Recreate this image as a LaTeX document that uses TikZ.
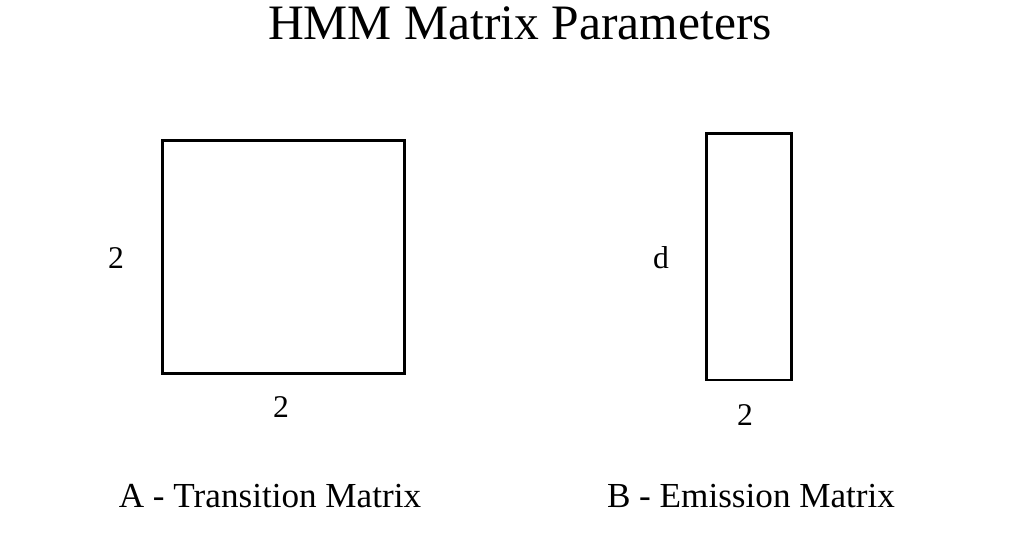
\documentclass[tikz,border=0pt]{standalone}
\usepackage{fontspec}
\setmainfont{Liberation Serif}
\usetikzlibrary{positioning}
\tikzset{
  matbox/.style={draw=black, line width=1.7pt, fill=white, inner sep=0pt},
  dimlbl/.style={font=\fontsize{18}{20}\selectfont, inner sep=0pt},
  caption/.style={font=\fontsize{20}{24}\selectfont, inner sep=0pt},
  headline/.style={font=\fontsize{28.2}{32}\selectfont, inner sep=0pt}
}

\begin{document}
\begin{tikzpicture}
\useasboundingbox (0,0) rectangle (20.2,-11.04);
% title
\node[headline] (title) at (10.4,-0.46) {HMM Matrix Parameters};
% transition matrix
\node[matbox, minimum width=4.84cm, minimum height=4.66cm] (amat) at (5.675,-5.14) {};
\node[dimlbl] (arows) at (2.32,-5.16) {2};
\node[dimlbl] (acols) at (5.62,-8.14) {2};
\node[caption] (acap) at (5.4,-9.92) {A - Transition Matrix};
% emission matrix
\node[matbox, minimum width=1.7cm, minimum height=4.93cm] (bmat) at (14.98,-5.135) {};
\node[dimlbl] (brows) at (13.22,-5.16) {d};
\node[dimlbl] (bcols) at (14.9,-8.3) {2};
\node[caption] (bcap) at (15.02,-9.92) {B - Emission Matrix};
\end{tikzpicture}
\end{document}
